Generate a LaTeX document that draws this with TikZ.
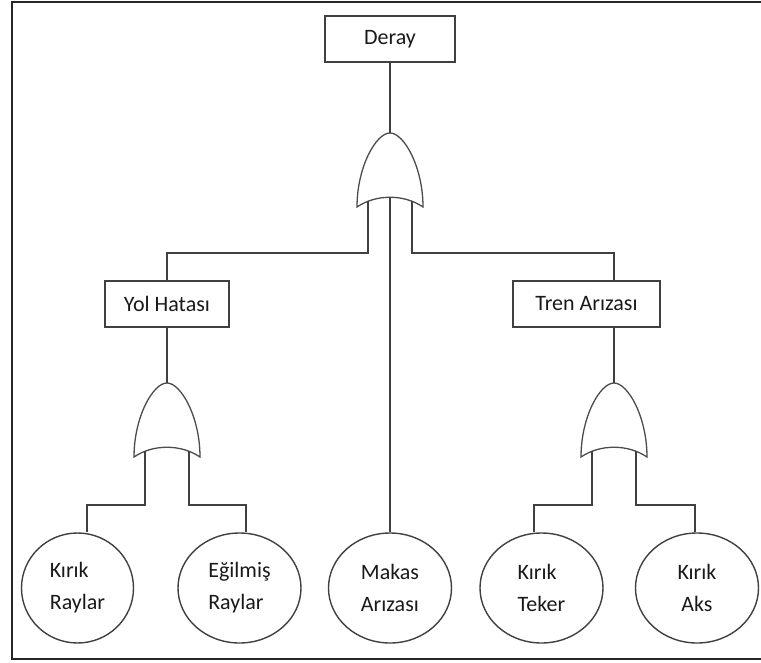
\documentclass[tikz,border=0pt]{standalone}
\usepackage{fontspec}
\setmainfont{Carlito}
\usetikzlibrary{shapes.geometric}

\tikzset{
  orkapi/.pic={
    \draw[kapi]
    (-33,0)
    .. controls (-33,-40) and (-14,-74) ..
    (0,-74)
    .. controls (14,-74) and (33,-40) ..
    (33,0)
    .. controls (14,-13) and (-14,-13) ..
    cycle;
    \coordinate (-top) at (0,-74);
    \coordinate (-l) at (-22,-6);
    \coordinate (-c) at (0,-10);
    \coordinate (-r) at (22,-6);
  }
}

\begin{document}
\begin{tikzpicture}[x=1pt,y=-1pt,
  every node/.style={font=\fontsize{22}{32}\selectfont, text=black!90},
  cizgi/.style={line width=1.5pt, draw=black!75},
  kapi/.style={line width=1.3pt, draw=black!70},
  kutu/.style={draw=black!75, line width=1.5pt, rectangle, minimum height=46pt, inner sep=0pt},
  olay/.style={draw=black!75, line width=1.4pt, ellipse, minimum width=123pt, minimum height=110pt, inner sep=0pt, align=left}]

\useasboundingbox
(0,0)
rectangle
(761,662);

% Cerceve
\draw[line width=2.2pt, black!85]
(761,2)
--
(12,2)
--
(12,659)
--
(761,659);

% Kutular
\node[kutu, minimum width=130pt]
(deray) at (390,39)
{Deray};

\node[kutu, minimum width=124pt]
(yol) at (167,304)
{Yol Hatası};

\node[kutu, minimum width=147pt]
(tren) at (586.5,304)
{Tren Arızası};

% Kapilar
\pic (g1) at (390,207) {orkapi};
\pic (g2) at (167,457) {orkapi};
\pic (g3) at (614,457) {orkapi};

% Olaylar
\node[olay, minimum width=112pt]
(kr) at (77.5,588)
{Kırık\\Raylar};

\node[olay]
(er) at (239.5,588)
{Eğilmiş\\Raylar};

\node[olay]
(ma) at (390,588)
{Makas\\Arızası};

\node[olay]
(kt) at (541.5,588)
{Kırık\\Teker};

\node[olay, align=center]
(ka) at (697,588)
{Kırık\\Aks};

% Baglanti noktalari
\coordinate (yolust) at (167,253);
\coordinate (trenust) at (614,253);
\coordinate (a1) at (87,505);
\coordinate (a2) at (246,505);
\coordinate (a3) at (534,505);
\coordinate (a4) at (695,505);

% Ust seviye
\draw[cizgi]
(deray)
--
(g1-top);

\draw[cizgi]
(g1-l)
|-
(yolust)
--
(yol);

\draw[cizgi]
(g1-r)
|-
(trenust)
--
(trenust |- tren.north);

\draw[cizgi]
(g1-c)
--
(ma);

% Orta seviye
\draw[cizgi]
(yol)
--
(g2-top);

\draw[cizgi]
(tren.south -| g3-top)
--
(g3-top);

% Alt seviye
\draw[cizgi]
(g2-l)
|-
(a1)
--
(a1 |- kr.north);

\draw[cizgi]
(g2-r)
|-
(a2)
--
(a2 |- er.north);

\draw[cizgi]
(g3-l)
|-
(a3)
--
(a3 |- kt.north);

\draw[cizgi]
(g3-r)
|-
(a4)
--
(a4 |- ka.north);

\end{tikzpicture}
\end{document}
